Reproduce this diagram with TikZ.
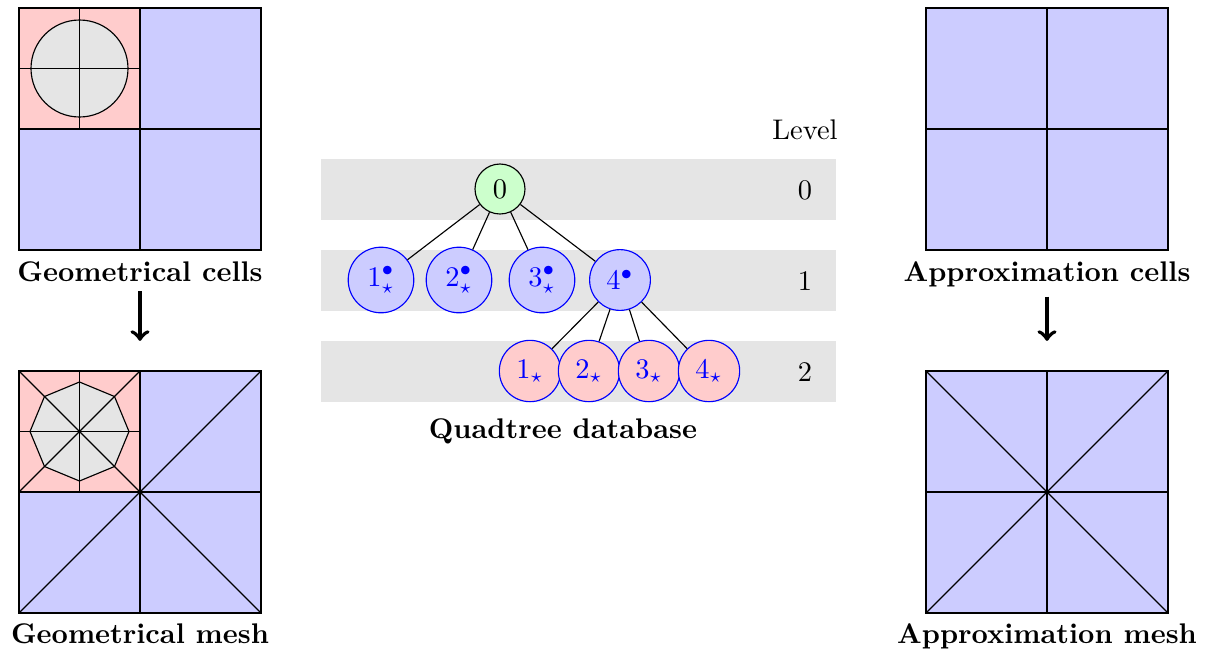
\documentclass[tikz,border=0pt]{standalone}
\begin{document}
\begin{tikzpicture}[x=0.3521pt,y=-0.3521pt,
  lbl/.style={font=\bfseries, anchor=base},
  band/.style={fill=gray!20},
  cellred/.style={fill=red!20},
  cellblue/.style={fill=blue!20},
  geom/.style={draw=black, fill=gray!20},
  rootnode/.style={circle, draw=black, fill=green!20, inner sep=0pt, minimum size=17.6pt},
  lvlone/.style={circle, draw=blue, fill=blue!20, text=blue, inner sep=0pt, minimum size=23.1pt},
  lvltwo/.style={circle, draw=blue, fill=red!20, text=blue, inner sep=0pt, minimum size=21.6pt},
  edge/.style={draw=black},
  bigarrow/.style={->, line width=1.4pt, shorten >=10.6pt}
]
\useasboundingbox (0,0) rectangle (1214,650);

% ---------- Geometrical cells ----------
\fill[cellblue] (19,8) rectangle (261,250);
\fill[cellred] (19,8) rectangle (140,129);
\draw[geom] (79.5,68.5) circle (48.5);
\draw (79.5,8) -- (79.5,129);
\draw (19,68.5) -- (140,68.5);
\draw (19,8) rectangle (261,250);
\draw (140,8) -- (140,250);
\draw (19,129) -- (261,129);
\node[lbl] (gc) at (140,281) {Geometrical cells};

% ---------- Geometrical mesh ----------
\fill[cellblue] (19,371) rectangle (261,613);
\fill[cellred] (19,371) rectangle (140,492);
\draw[geom] (79.5,431.5) +(0:49.5) -- +(45:49.5) -- +(90:49.5) -- +(135:49.5)
  -- +(180:49.5) -- +(225:49.5) -- +(270:49.5) -- +(315:49.5) -- cycle;
\draw (79.5,371) -- (79.5,492);
\draw (19,431.5) -- (140,431.5);
\draw (140,371) -- (19,492);
\draw (19,371) -- (261,613);
\draw (19,613) -- (261,371);
\draw (19,371) rectangle (261,613);
\draw (140,371) -- (140,613);
\draw (19,492) -- (261,492);
\coordinate (gmtop) at (140,371);
\node[lbl] (gm) at (140,643) {Geometrical mesh};
\draw[bigarrow] (gc) -- (gmtop);

% ---------- Approximation cells ----------
\fill[cellblue] (926,8) rectangle (1168,250);
\draw (926,8) rectangle (1168,250);
\draw (1047,8) -- (1047,250);
\draw (926,129) -- (1168,129);
\node[lbl] (ac) at (1047,281) {Approximation cells};

% ---------- Approximation mesh ----------
\fill[cellblue] (926,371) rectangle (1168,613);
\draw (926,371) rectangle (1168,613);
\draw (1047,371) -- (1047,613);
\draw (926,492) -- (1168,492);
\draw (926,371) -- (1168,613);
\draw (926,613) -- (1168,371);
\coordinate (amtop) at (1047,371);
\node[lbl] (am) at (1047,643) {Approximation mesh};
\draw[bigarrow] (ac) -- (amtop);

% ---------- Quadtree ----------
\fill[band] (321,159) rectangle (836,220);
\fill[band] (321,250) rectangle (836,311);
\fill[band] (321,341) rectangle (836,402);

\node (lvl) at (805,130) {Level};
\node (l0) at (805,190) {0};
\node (l1) at (805,281) {1};
\node (l2) at (805,372) {2};

\node[rootnode] (r) at (500,189) {0};
\node[lvlone] (a1) at (381,280) {$1^\bullet_\star$};
\node[lvlone] (a2) at (459,280) {$2^\bullet_\star$};
\node[lvlone] (a3) at (542,280) {$3^\bullet_\star$};
\node[lvlone, minimum size=21.4pt] (a4) at (620,280) {$4^\bullet$};
\node[lvltwo] (b1) at (530,371) {$1_\star$};
\node[lvltwo] (b2) at (589,371) {$2_\star$};
\node[lvltwo] (b3) at (649,371) {$3_\star$};
\node[lvltwo] (b4) at (709,371) {$4_\star$};

\draw[edge] (r) -- (a1);
\draw[edge] (r) -- (a2);
\draw[edge] (r) -- (a3);
\draw[edge] (r) -- (a4);
\draw[edge] (a4) -- (b1);
\draw[edge] (a4) -- (b2);
\draw[edge] (a4) -- (b3);
\draw[edge] (a4) -- (b4);

\node[lbl] (qd) at (563,438) {Quadtree database};
\end{tikzpicture}
\end{document}
